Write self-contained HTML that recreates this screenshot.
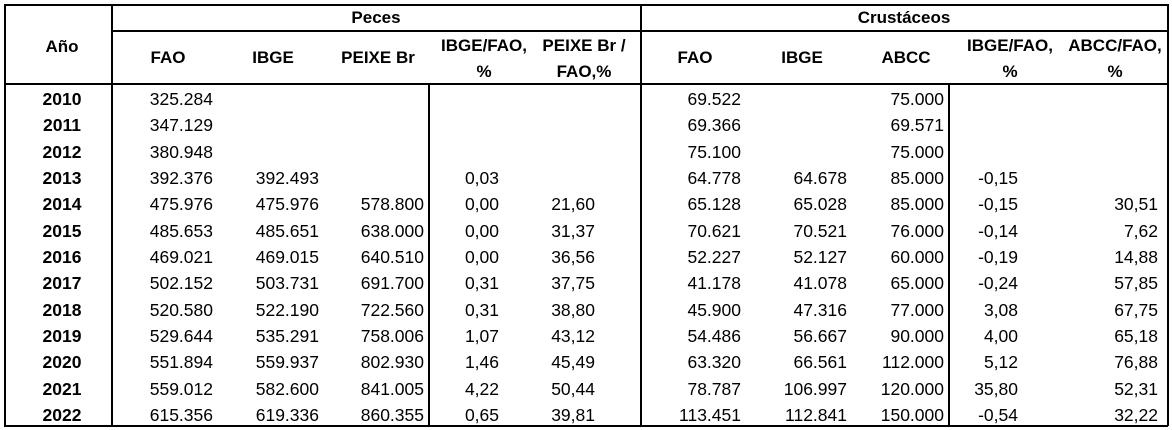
<!DOCTYPE html>
<html><head><meta charset="utf-8">
<style>
html,body{margin:0;padding:0;background:#fff;}
#t{position:relative;width:1172px;height:430px;overflow:hidden;font-family:"Liberation Sans",sans-serif;color:#000;}
.ln{position:absolute;background:#000;}
.c{position:absolute;font-size:17.5px;line-height:20px;white-space:nowrap;}
.h{position:absolute;font-size:17px;font-weight:bold;line-height:26px;text-align:center;white-space:nowrap;transform:translateX(-50%);}
.y{font-weight:bold;text-align:center;transform:translateX(-50%);}
.r{transform:translateX(-100%);}
</style></head>
<body>
<div id="t">
  <div class="ln" style="left:4px;top:4px;width:1164px;height:1.5px"></div>
  <div class="ln" style="left:4px;top:425px;width:1164px;height:1.5px"></div>
  <div class="ln" style="left:4px;top:4px;width:1.5px;height:422px"></div>
  <div class="ln" style="left:1167px;top:4px;width:1.5px;height:422px"></div>
  <div class="ln" style="left:111px;top:4px;width:1.5px;height:422px"></div>
  <div class="ln" style="left:640px;top:4px;width:1.5px;height:422px"></div>
  <div class="ln" style="left:428px;top:84px;width:1.5px;height:342px"></div>
  <div class="ln" style="left:948px;top:84px;width:1.5px;height:342px"></div>
  <div class="ln" style="left:111px;top:30px;width:1057px;height:1.5px"></div>
  <div class="ln" style="left:4px;top:83px;width:1164px;height:1.5px"></div>

  <div class="h" style="left:376px;top:5px">Peces</div>
  <div class="h" style="left:904px;top:5px">Crustáceos</div>
  <div class="h" style="left:62px;top:34px">Año</div>
  <div class="h" style="left:168px;top:45px">FAO</div>
  <div class="h" style="left:273px;top:45px">IBGE</div>
  <div class="h" style="left:378px;top:45px">PEIXE Br</div>
  <div class="h" style="left:484px;top:33px">IBGE/FAO,<br>%</div>
  <div class="h" style="left:584px;top:33px">PEIXE Br /<br>FAO,%</div>
  <div class="h" style="left:695px;top:45px">FAO</div>
  <div class="h" style="left:802px;top:45px">IBGE</div>
  <div class="h" style="left:906px;top:45px">ABCC</div>
  <div class="h" style="left:1010px;top:33px">IBGE/FAO,<br>%</div>
  <div class="h" style="left:1115px;top:33px">ABCC/FAO,<br>%</div>
</div>
<script>
const years=["2010","2011","2012","2013","2014","2015","2016","2017","2018","2019","2020","2021","2022"];
const pecesFao=["325.284","347.129","380.948","392.376","475.976","485.653","469.021","502.152","520.580","529.644","551.894","559.012","615.356"];
const pecesIbge=["","","","392.493","475.976","485.651","469.015","503.731","522.190","535.291","559.937","582.600","619.336"];
const peixeBr=["","","","","578.800","638.000","640.510","691.700","722.560","758.006","802.930","841.005","860.355"];
const pecesIbgeFao=["","","","0,03","0,00","0,00","0,00","0,31","0,31","1,07","1,46","4,22","0,65"];
const peixeFao=["","","","","21,60","31,37","36,56","37,75","38,80","43,12","45,49","50,44","39,81"];
const crustFao=["69.522","69.366","75.100","64.778","65.128","70.621","52.227","41.178","45.900","54.486","63.320","78.787","113.451"];
const crustIbge=["","","","64.678","65.028","70.521","52.127","41.078","47.316","56.667","66.561","106.997","112.841"];
const abcc=["75.000","69.571","75.000","85.000","85.000","76.000","60.000","65.000","77.000","90.000","112.000","120.000","150.000"];
const crustIbgeFao=["","","","-0,15","-0,15","-0,14","-0,19","-0,24","3,08","4,00","5,12","35,80","-0,54"];
const abccFao=["","","","","30,51","7,62","14,88","57,85","67,75","65,18","76,88","52,31","32,22"];

const t=document.getElementById('t');
const cols=[
 {d:pecesFao,x:213,n:'peces-fao'},
 {d:pecesIbge,x:319,n:'peces-ibge'},
 {d:peixeBr,x:424,n:'peixe-br'},
 {d:pecesIbgeFao,x:499,n:'peces-ibge-fao'},
 {d:peixeFao,x:595,n:'peixe-fao'},
 {d:crustFao,x:741,n:'crust-fao'},
 {d:crustIbge,x:847,n:'crust-ibge'},
 {d:abcc,x:944,n:'abcc'},
 {d:crustIbgeFao,x:1018,n:'crust-ibge-fao'},
 {d:abccFao,x:1158,n:'abcc-fao'}
];
const rowY=i=>89+i*26.33;
years.forEach((yr,i)=>{
  const e=document.createElement('div');
  
  
  e.className='c y';
  e.style.left='62px';e.style.top=rowY(i)+'px';
  e.textContent=yr;
  t.appendChild(e);
  cols.forEach(c=>{
    const v=c.d[i];
    if(!v)return;
    const d=document.createElement('div');
    
    
    d.className='c r';
    d.style.left=c.x+'px';d.style.top=rowY(i)+'px';
    d.textContent=v;
    t.appendChild(d);
  });
});
</script>
</body></html>
